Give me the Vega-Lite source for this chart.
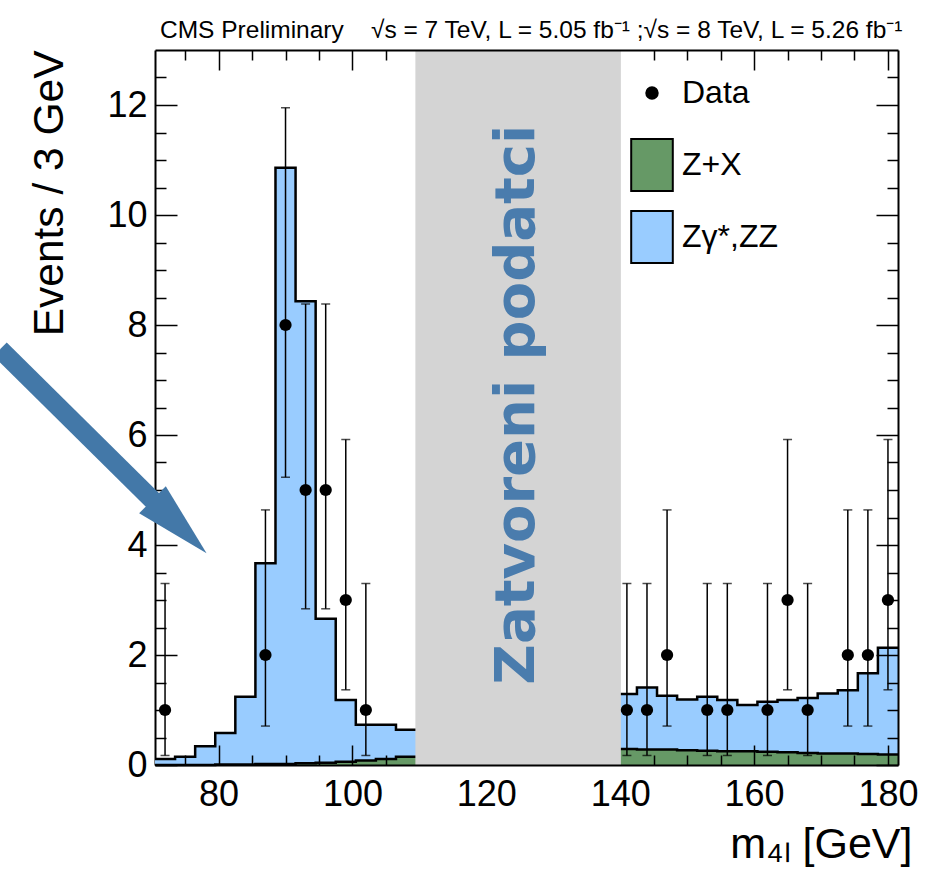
{
  "$schema": "https://vega.github.io/schema/vega-lite/v6.json",
  "width": 743,
  "height": 715,
  "autosize": "none",
  "padding": {"left": 155, "top": 50, "right": 42, "bottom": 130},
  "background": "white",
  "config": {"view": {"stroke": null}, "font": "Liberation Sans"},
  "title": {
    "text": "CMS Preliminary\u00a0\u00a0\u00a0\u00a0√s = 7 TeV, L = 5.05 fb⁻¹\u00a0;√s = 8 TeV, L = 5.26 fb⁻¹",
    "anchor": "start",
    "frame": "group",
    "offset": 10,
    "dx": 5,
    "dy": 23,
    "baseline": "alphabetic",
    "font": "Liberation Sans",
    "fontSize": 24.5,
    "fontWeight": "normal",
    "color": "black"
  },
  "datasets": {
    "bins": [
      {"lo": 70.5, "Z+X": 0.00, "Zγ*,ZZ": 0.11},
      {"lo": 73.5, "Z+X": 0.00, "Zγ*,ZZ": 0.15},
      {"lo": 76.5, "Z+X": 0.00, "Zγ*,ZZ": 0.34},
      {"lo": 79.5, "Z+X": 0.01, "Zγ*,ZZ": 0.57},
      {"lo": 82.5, "Z+X": 0.01, "Zγ*,ZZ": 1.23},
      {"lo": 85.5, "Z+X": 0.02, "Zγ*,ZZ": 3.65},
      {"lo": 88.5, "Z+X": 0.02, "Zγ*,ZZ": 10.84},
      {"lo": 91.5, "Z+X": 0.03, "Zγ*,ZZ": 8.40},
      {"lo": 94.5, "Z+X": 0.04, "Zγ*,ZZ": 2.62},
      {"lo": 97.5, "Z+X": 0.06, "Zγ*,ZZ": 1.12},
      {"lo": 100.5, "Z+X": 0.08, "Zγ*,ZZ": 0.65},
      {"lo": 103.5, "Z+X": 0.11, "Zγ*,ZZ": 0.62},
      {"lo": 106.5, "Z+X": 0.15, "Zγ*,ZZ": 0.49},
      {"lo": 139.5, "Z+X": 0.29, "Zγ*,ZZ": 1.00},
      {"lo": 142.5, "Z+X": 0.28, "Zγ*,ZZ": 1.13},
      {"lo": 145.5, "Z+X": 0.28, "Zγ*,ZZ": 0.98},
      {"lo": 148.5, "Z+X": 0.27, "Zγ*,ZZ": 0.92},
      {"lo": 151.5, "Z+X": 0.26, "Zγ*,ZZ": 0.98},
      {"lo": 154.5, "Z+X": 0.25, "Zγ*,ZZ": 0.93},
      {"lo": 157.5, "Z+X": 0.25, "Zγ*,ZZ": 0.84},
      {"lo": 160.5, "Z+X": 0.24, "Zγ*,ZZ": 0.91},
      {"lo": 163.5, "Z+X": 0.23, "Zγ*,ZZ": 0.95},
      {"lo": 166.5, "Z+X": 0.22, "Zγ*,ZZ": 1.00},
      {"lo": 169.5, "Z+X": 0.21, "Zγ*,ZZ": 1.09},
      {"lo": 172.5, "Z+X": 0.21, "Zγ*,ZZ": 1.15},
      {"lo": 175.5, "Z+X": 0.20, "Zγ*,ZZ": 1.47},
      {"lo": 178.5, "Z+X": 0.19, "Zγ*,ZZ": 1.94},
      {"lo": 181.5, "Z+X": 0.19, "Zγ*,ZZ": 1.94}
    ],
    "pts": [
      {"m": 72, "n": 1, "lo": 0.173, "hi": 3.300},
      {"m": 87, "n": 2, "lo": 0.708, "hi": 4.638},
      {"m": 90, "n": 8, "lo": 5.232, "hi": 11.95},
      {"m": 93, "n": 5, "lo": 2.840, "hi": 8.382},
      {"m": 96, "n": 5, "lo": 2.840, "hi": 8.382},
      {"m": 99, "n": 3, "lo": 1.367, "hi": 5.918},
      {"m": 102, "n": 1, "lo": 0.173, "hi": 3.300},
      {"m": 141, "n": 1, "lo": 0.173, "hi": 3.300},
      {"m": 144, "n": 1, "lo": 0.173, "hi": 3.300},
      {"m": 147, "n": 2, "lo": 0.708, "hi": 4.638},
      {"m": 153, "n": 1, "lo": 0.173, "hi": 3.300},
      {"m": 156, "n": 1, "lo": 0.173, "hi": 3.300},
      {"m": 162, "n": 1, "lo": 0.173, "hi": 3.300},
      {"m": 165, "n": 3, "lo": 1.367, "hi": 5.918},
      {"m": 168, "n": 1, "lo": 0.173, "hi": 3.300},
      {"m": 174, "n": 2, "lo": 0.708, "hi": 4.638},
      {"m": 177, "n": 2, "lo": 0.708, "hi": 4.638},
      {"m": 180, "n": 3, "lo": 1.367, "hi": 5.918}
    ]
  },
  "resolve": {"axis": {"x": "independent", "y": "independent"}},
  "layer": [
    {
      "data": {"name": "bins"},
      "transform": [{"fold": ["Z+X", "Zγ*,ZZ"], "as": ["proc", "events"]}],
      "mark": {
        "type": "area",
        "interpolate": "step-after",
        "opacity": 1,
        "line": {"color": "black", "strokeWidth": 2.5, "fillOpacity": 0}
      },
      "encoding": {
        "x": {
          "field": "lo",
          "type": "quantitative",
          "scale": {"domain": [70.5, 181.5], "nice": false, "zero": false},
          "axis": {
            "orient": "bottom",
            "values": [75, 80, 85, 90, 95, 100, 105, 110, 115, 120, 125, 130, 135, 140, 145, 150, 155, 160, 165, 170, 175, 180],
            "grid": false,
            "domain": true,
            "domainColor": "black",
            "domainWidth": 2,
            "tickColor": "black",
            "tickWidth": 1.5,
            "tickSize": {"condition": {"test": "datum.value % 20 === 0", "value": -20}, "value": -10},
            "tickOpacity": {"condition": {"test": "datum.value > 109 && datum.value < 141", "value": 0}, "value": 1},
            "labelExpr": "datum.value % 20 === 0 ? format(datum.value, 'd') : ''",
            "labelFont": "Liberation Sans",
            "labelFontSize": 36,
            "labelColor": "black",
            "labelPadding": 32,
            "labelFlush": false,
            "labelOverlap": false,
            "title": "m₄ₗ [GeV]",
            "titleFont": "Liberation Sans",
            "titleFontSize": 43,
            "titleFontWeight": "normal",
            "titleColor": "black",
            "titleAnchor": "end",
            "titleAlign": "right",
            "titleBaseline": "alphabetic",
            "titleX": 757,
            "titleY": 92,
            "zindex": 1
          }
        },
        "y": {
          "field": "events",
          "type": "quantitative",
          "stack": "zero",
          "scale": {"domain": [0, 13], "nice": false},
          "axis": {
            "orient": "left",
            "values": [0, 0.5, 1, 1.5, 2, 2.5, 3, 3.5, 4, 4.5, 5, 5.5, 6, 6.5, 7, 7.5, 8, 8.5, 9, 9.5, 10, 10.5, 11, 11.5, 12, 12.5],
            "grid": false,
            "domain": true,
            "domainColor": "black",
            "domainWidth": 2,
            "tickColor": "black",
            "tickWidth": 1.5,
            "tickSize": {"condition": {"test": "datum.value % 2 === 0", "value": -22}, "value": -11},
            "labelExpr": "datum.value % 2 === 0 ? format(datum.value, 'd') : ''",
            "labelFont": "Liberation Sans",
            "labelFontSize": 36,
            "labelColor": "black",
            "labelPadding": 30,
            "labelFlush": false,
            "labelOverlap": false,
            "title": "Events / 3 GeV",
            "titleFont": "Liberation Sans",
            "titleFontSize": 42.5,
            "titleFontWeight": "normal",
            "titleColor": "black",
            "titleAnchor": "end",
            "titleAlign": "right",
            "titleBaseline": "alphabetic",
            "titleAngle": 270,
            "titleX": -93,
            "titleY": 0,
            "zindex": 0
          }
        },
        "fill": {
          "field": "proc",
          "type": "nominal",
          "scale": {"domain": ["Data", "Z+X", "Zγ*,ZZ"], "range": ["#000000", "#669966", "#99ccff"]},
          "legend": {
            "orient": "none",
            "legendX": 470,
            "legendY": 16,
            "title": null,
            "padding": 0,
            "symbolSize": 2704,
            "symbolStrokeColor": "black",
            "symbolStrokeWidth": 2,
            "labelFont": "Liberation Sans",
            "labelFontSize": 32,
            "labelColor": "black",
            "labelOffset": 3,
            "rowPadding": 12,
            "encode": {
              "symbols": {
                "update": {
                  "shape": {"signal": "datum.value === 'Data' ? 'M0,-1M0,1M0.22,0A0.22,0.22 0 1,1 -0.22,0A0.22,0.22 0 1,1 0.22,0Z' : 'M-0.8,-1H0.8V1H-0.8Z'"},
                  "stroke": {"value": "black"},
                  "opacity": {"value": 1},
                  "fillOpacity": {"value": 1}
                }
              }
            }
          }
        },
        "order": {"field": "proc", "sort": "ascending"}
      }
    },
    {
      "data": {"values": [{}]},
      "mark": {"type": "rect", "color": "#d4d4d4", "opacity": 1},
      "encoding": {
        "x": {"datum": 109.4, "type": "quantitative", "axis": null},
        "x2": {"datum": 140.1},
        "y": {"datum": 0, "type": "quantitative", "axis": null},
        "y2": {"datum": 13}
      }
    },
    {
      "data": {"name": "pts"},
      "mark": {"type": "rule", "color": "black", "strokeWidth": 1.5},
      "encoding": {
        "x": {
          "field": "m",
          "type": "quantitative",
          "axis": {
            "orient": "top",
            "values": [75, 80, 85, 90, 95, 100, 105, 110, 115, 120, 125, 130, 135, 140, 145, 150, 155, 160, 165, 170, 175, 180],
            "grid": false,
            "labels": false,
            "title": null,
            "domain": true,
            "domainColor": "black",
            "domainWidth": 2,
            "tickColor": "black",
            "tickWidth": 1.5,
            "tickSize": {"condition": {"test": "datum.value % 20 === 0", "value": -20}, "value": -10},
            "tickOpacity": {"condition": {"test": "datum.value > 109 && datum.value < 141", "value": 0}, "value": 1},
            "zindex": 1
          }
        },
        "y": {
          "field": "lo",
          "type": "quantitative",
          "axis": {
            "orient": "right",
            "values": [0, 0.5, 1, 1.5, 2, 2.5, 3, 3.5, 4, 4.5, 5, 5.5, 6, 6.5, 7, 7.5, 8, 8.5, 9, 9.5, 10, 10.5, 11, 11.5, 12, 12.5],
            "grid": false,
            "labels": false,
            "title": null,
            "domain": true,
            "domainColor": "black",
            "domainWidth": 2,
            "tickColor": "black",
            "tickWidth": 1.5,
            "tickSize": {"condition": {"test": "datum.value % 2 === 0", "value": -22}, "value": -11},
            "zindex": 1
          }
        },
        "y2": {"field": "hi"}
      }
    },
    {
      "data": {"name": "pts"},
      "mark": {"type": "tick", "orient": "horizontal", "size": 9, "thickness": 1.5, "color": "black"},
      "encoding": {
        "x": {"field": "m", "type": "quantitative", "axis": null},
        "y": {"field": "lo", "type": "quantitative", "axis": null}
      }
    },
    {
      "data": {"name": "pts"},
      "mark": {"type": "tick", "orient": "horizontal", "size": 9, "thickness": 1.5, "color": "black"},
      "encoding": {
        "x": {"field": "m", "type": "quantitative", "axis": null},
        "y": {"field": "hi", "type": "quantitative", "axis": null}
      }
    },
    {
      "data": {"name": "pts"},
      "mark": {"type": "point", "shape": "circle", "filled": true, "size": 150, "opacity": 1},
      "encoding": {
        "x": {"field": "m", "type": "quantitative", "axis": null},
        "y": {"field": "n", "type": "quantitative", "axis": null},
        "fill": {"datum": "Data"}
      }
    },
    {
      "data": {"values": [{}]},
      "mark": {
        "type": "text",
        "text": "Zatvoreni podatci",
        "angle": 270,
        "align": "center",
        "baseline": "middle",
        "font": "DejaVu Sans",
        "fontWeight": "bold",
        "fontSize": 56,
        "color": "#4a7cad"
      },
      "encoding": {
        "x": {"datum": 124.6, "type": "quantitative", "axis": null},
        "y": {"datum": 6.55, "type": "quantitative", "axis": null}
      }
    },
    {
      "data": {"values": [{}]},
      "mark": {"type": "rule", "color": "#4378a8", "strokeWidth": 19, "strokeCap": "butt"},
      "encoding": {
        "x": {"datum": 47.35, "type": "quantitative", "axis": null},
        "y": {"datum": 7.56, "type": "quantitative", "axis": null},
        "x2": {"datum": 70.95},
        "y2": {"datum": 4.72}
      }
    },
    {
      "data": {"values": [{}]},
      "mark": {
        "type": "point",
        "shape": "M1,0L-1,-0.5L-1,0.5Z",
        "size": 5776,
        "angle": 44.6,
        "filled": true,
        "color": "#4378a8",
        "opacity": 1
      },
      "encoding": {
        "x": {"datum": 74.16, "type": "quantitative", "axis": null},
        "y": {"datum": 4.336, "type": "quantitative", "axis": null}
      }
    }
  ]
}
